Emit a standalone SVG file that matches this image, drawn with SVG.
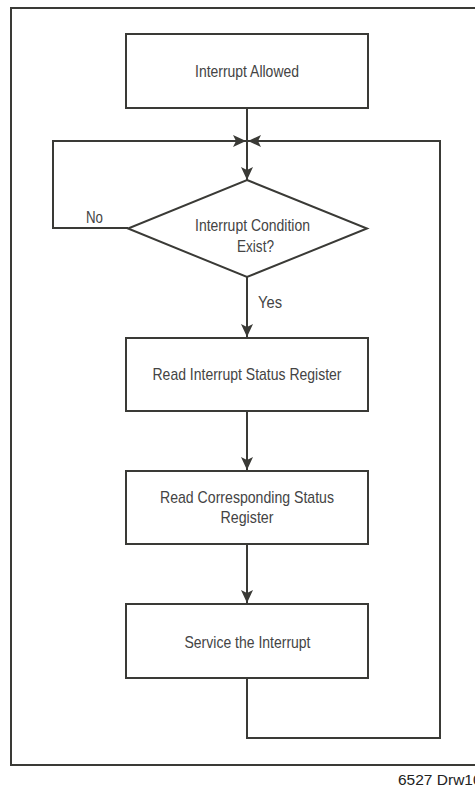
<svg xmlns="http://www.w3.org/2000/svg" width="475" height="787" viewBox="0 0 475 787">
<style>
.frame{fill:none;stroke:#3a3a36;stroke-width:2}
.box{fill:#fff;stroke:#3a3a36;stroke-width:2}
.ln{fill:none;stroke:#3a3a36;stroke-width:2}
.t{font-family:"Liberation Sans",Arial,sans-serif;font-size:17px;fill:#444;text-anchor:middle}
.lbl{font-family:"Liberation Sans",Arial,sans-serif;font-size:17px;fill:#444}
.note{font-family:"Liberation Sans",Arial,sans-serif;font-size:15.5px;fill:#222}
</style>
<defs>
<marker id="ah" viewBox="0 0 13 12" refX="13" refY="6" markerWidth="13" markerHeight="12" markerUnits="userSpaceOnUse" orient="auto">
<path d="M0,0 L13,6 L0,12 L3,6 Z" fill="#3a3a36"/>
</marker>
</defs>
<rect class="frame" x="11" y="8" width="480" height="757"/>
<g id="connectors">
<path class="ln" d="M247,108 V180" marker-end="url(#ah)"/>
<path class="ln" d="M128,228 H53 V141 H246" marker-end="url(#ah)"/>
<path class="ln" d="M247,277 V337" marker-end="url(#ah)"/>
<path class="ln" d="M247,411 V470" marker-end="url(#ah)"/>
<path class="ln" d="M247,544 V603" marker-end="url(#ah)"/>
<path class="ln" d="M247,678 V738 H440 V141 H248" marker-end="url(#ah)"/>
<text class="lbl" x="86" y="223" textLength="17" lengthAdjust="spacingAndGlyphs">No</text>
<text class="lbl" x="258" y="308" textLength="24" lengthAdjust="spacingAndGlyphs">Yes</text>
</g>
<g id="n1">
<rect class="box" x="126" y="34" width="242" height="74"/>
<text class="t" x="247" y="77" textLength="104" lengthAdjust="spacingAndGlyphs">Interrupt Allowed</text>
</g>
<g id="n2">
<polygon class="box" points="247,180 367,228.5 247,277 128,228.5"/>
<text class="t" x="252.5" y="231" textLength="115" lengthAdjust="spacingAndGlyphs">Interrupt Condition</text>
<text class="t" x="255.5" y="252" textLength="37" lengthAdjust="spacingAndGlyphs">Exist?</text>
</g>
<g id="n3">
<rect class="box" x="126" y="338" width="242" height="73"/>
<text class="t" x="247" y="380" textLength="189" lengthAdjust="spacingAndGlyphs">Read Interrupt Status Register</text>
</g>
<g id="n4">
<rect class="box" x="126" y="471" width="242" height="73"/>
<text class="t" x="247" y="503" textLength="174" lengthAdjust="spacingAndGlyphs">Read Corresponding Status</text>
<text class="t" x="247" y="523" textLength="53" lengthAdjust="spacingAndGlyphs">Register</text>
</g>
<g id="n5">
<rect class="box" x="126" y="604" width="242" height="74"/>
<text class="t" x="247.5" y="648" textLength="126" lengthAdjust="spacingAndGlyphs">Service the Interrupt</text>
</g>
<text class="note" x="398" y="785">6527 Drw10</text>
</svg>
